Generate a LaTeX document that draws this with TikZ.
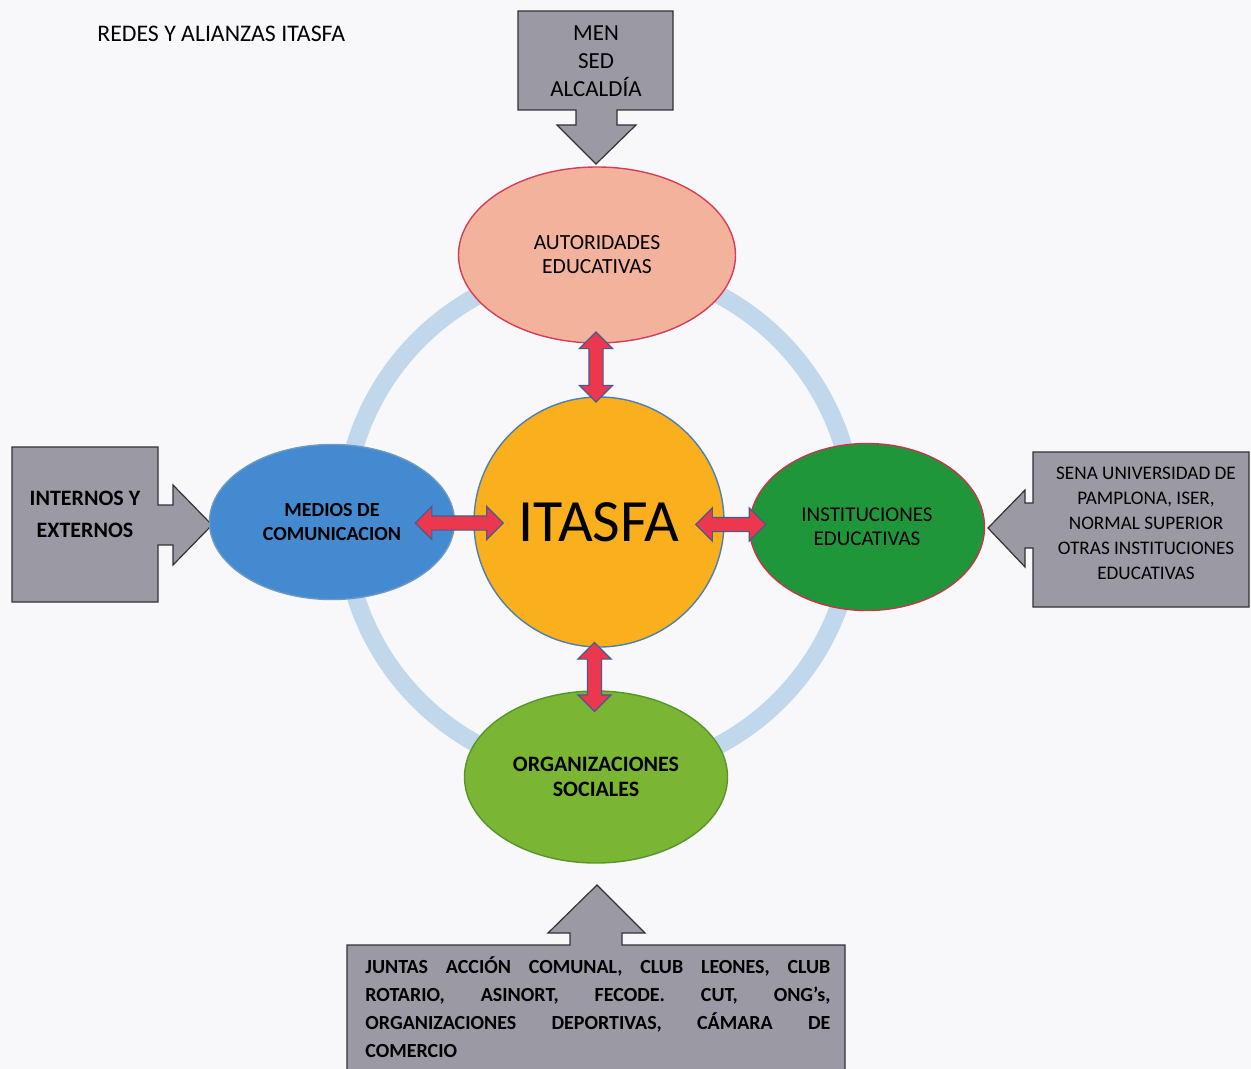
\documentclass[tikz,border=0pt]{standalone}
\usepackage{fontspec}
\setmainfont{Carlito}
\usetikzlibrary{shapes.geometric,shapes.arrows,calc}

\definecolor{fondo}{RGB}{248,248,250}
\definecolor{anillo}{RGB}{193,216,236}
\definecolor{salmon}{RGB}{243,178,156}
\definecolor{bordeRojo}{RGB}{214,62,86}
\definecolor{naranja}{RGB}{250,175,28}
\definecolor{bordeAzul}{RGB}{74,128,180}
\definecolor{azulMedio}{RGB}{68,138,208}
\definecolor{verdeInst}{RGB}{32,150,58}
\definecolor{verdeOrg}{RGB}{122,182,52}
\definecolor{bordeVerde}{RGB}{88,148,44}
\definecolor{rojoFlecha}{RGB}{236,56,78}
\definecolor{bordeFlecha}{RGB}{70,92,140}
\definecolor{grisCaja}{RGB}{155,154,164}
\definecolor{bordeCaja}{RGB}{50,50,55}

\begin{document}
\begin{tikzpicture}[x=0.5pt,y=0.5pt,yscale=-1,xscale=1,
    elipse/.style={ellipse, draw, line width=0.7pt, inner sep=0pt, align=center, text=black},
    flecha/.style={double arrow, draw=bordeFlecha, fill=rojoFlecha, line width=0.6pt,
        inner sep=3.25pt, double arrow head extend=4.75pt},
    caja/.style={draw=bordeCaja, fill=grisCaja, line width=0.6pt},
    textocaja/.style={align=center, inner sep=0pt, text=black}
    ]
    \useasboundingbox (0,0) rectangle (1251,1069);
    \fill[fondo] (0,0) rectangle (1251,1069);

    %Shape: Circle (ring behind everything)
    \coordinate (centro) at (599,520);
    \draw[anillo, line width=9pt] (centro) circle[radius=127.5pt];

    %Shape: Block arrow, top
    \draw[caja] (518,11) -- (673,11) -- (673,110) -- (617,110) -- (617,125) -- (636,125) -- (596,164)
        -- (557,125) -- (576,125) -- (576,110) -- (518,110) -- cycle;
    %Shape: Block arrow, left
    \draw[caja] (12,447) -- (158,447) -- (158,505) -- (173,505) -- (173,485) -- (212,525) -- (173,565)
        -- (173,545) -- (158,545) -- (158,602) -- (12,602) -- cycle;
    %Shape: Block arrow, right
    \draw[caja] (1249,452) -- (1033,452) -- (1033,503) -- (1025,503) -- (1025,490) -- (988,528)
        -- (1025,567) -- (1025,548) -- (1033,548) -- (1033,607) -- (1249,607) -- cycle;
    %Shape: Block arrow, bottom
    \draw[caja] (347,945) -- (570,945) -- (570,933) -- (548,933) -- (597,885) -- (645,933) -- (622,933)
        -- (622,945) -- (845,945) -- (845,1075) -- (347,1075) -- cycle;

    %Shape: Ellipses
    \node[elipse, draw=bordeRojo, fill=salmon, minimum width=138.5pt, minimum height=88pt,
        font=\fontsize{10.8}{12}\selectfont] (aut) at (597,255) {AUTORIDADES\\EDUCATIVAS};
    \node[elipse, draw=bordeAzul!80, fill=azulMedio, minimum width=122.5pt, minimum height=77.5pt,
        font=\bfseries\fontsize{10}{12}\selectfont] (medios) at (332,522) {MEDIOS DE\\COMUNICACION};
    \node[elipse, draw=bordeRojo!90!black, fill=verdeInst, minimum width=117.5pt, minimum height=83.5pt,
        font=\fontsize{10.5}{12}\selectfont] (inst) at (867,527) {INSTITUCIONES\\EDUCATIVAS};
    \node[elipse, draw=bordeVerde, fill=verdeOrg, minimum width=131.5pt, minimum height=86pt,
        font=\bfseries\fontsize{11}{12.5}\selectfont] (org) at (596,777) {ORGANIZACIONES\\SOCIALES};
    %Shape: Circle
    \node[circle, draw=bordeAzul, fill=naranja, line width=0.7pt, minimum size=125pt, inner sep=0pt,
        font=\fontsize{30}{36}\selectfont] (itasfa) at (599,522) {ITASFA};

    %Double arrows
    \node[flecha, rotate=90, minimum height=35pt] (fAut) at ($(aut.south)!0.5!(itasfa.north)+(-2,-3)$) {};
    \node[flecha, minimum height=44pt] (fMed) at ($(medios.east)!0.5!(itasfa.west)+(-5,1)$) {};
    \node[flecha, minimum height=35pt] (fInst) at ($(itasfa.east)!0.5!(inst.west)+(-6,0)$) {};
    \node[flecha, rotate=90, minimum height=34.5pt] (fOrg) at ($(itasfa.south)!0.5!(org.north)+(-3,8)$) {};

    % Text Node
    \node[anchor=west, inner sep=0pt, font=\fontsize{11.9}{13}\selectfont] (titulo) at (97,34) {REDES Y ALIANZAS ITASFA};
    % Text Node
    \node[textocaja, font=\fontsize{11.5}{14}\selectfont] (men) at (596,61) {MEN\\SED\\ALCALDÍA};
    % Text Node
    \node[textocaja, font=\bfseries\fontsize{11}{16}\selectfont] (internos) at (85,514) {INTERNOS Y\\EXTERNOS};
    % Text Node
    \node[textocaja, font=\fontsize{9.6}{12.5}\selectfont] (sena) at (1146,523)
        {SENA UNIVERSIDAD DE\\PAMPLONA, ISER,\\NORMAL SUPERIOR\\OTRAS INSTITUCIONES\\EDUCATIVAS};
    % Text Node
    \node[anchor=north west, inner sep=0pt, text=black, font=\bfseries\fontsize{10}{14}\selectfont] (juntas) at (365,956)
        {\parbox[t]{232.5pt}{\hyphenpenalty=10000
        JUNTAS ACCIÓN COMUNAL, CLUB LEONES, CLUB\linebreak ROTARIO, ASINORT, FECODE. CUT, ONG’s,\linebreak
        ORGANIZACIONES DEPORTIVAS, CÁMARA DE\linebreak COMERCIO}};

\end{tikzpicture}
\end{document}
